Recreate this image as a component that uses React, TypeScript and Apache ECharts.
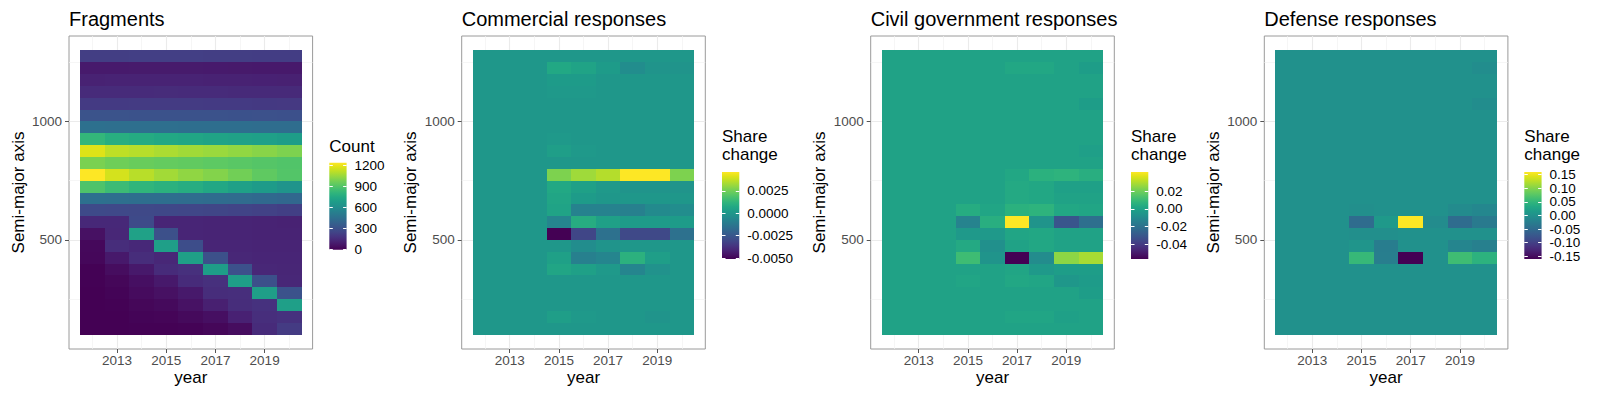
import React, { useEffect, useRef } from "react";
import * as echarts from "echarts";

// ---------- data ----------
const YEARS = [2012, 2013, 2014, 2015, 2016, 2017, 2018, 2019, 2020];
// semi-major axis bin centres, top row first
const SMA_BINS = [
  1275, 1225, 1175, 1125, 1075, 1025, 975, 925, 875, 825, 775, 725,
  675, 625, 575, 525, 475, 425, 375, 325, 275, 225, 175, 125,
];
const X_MAJOR = [2013, 2015, 2017, 2019];
const X_MINOR = [2012, 2014, 2016, 2018, 2020];
const Y_MAJOR = [500, 1000];
const Y_MINOR = [250, 750, 1250];

const FRAGMENTS = [
  [225, 226, 228, 229, 228, 226, 224, 222, 220],
  [88, 89, 90, 91, 90, 88, 86, 85, 84],
  [118, 119, 120, 121, 120, 118, 116, 115, 114],
  [150, 151, 153, 154, 153, 151, 149, 148, 147],
  [210, 211, 213, 214, 213, 211, 209, 207, 205],
  [315, 314, 313, 312, 311, 309, 307, 305, 303],
  [455, 453, 451, 449, 447, 445, 443, 441, 438],
  [820, 775, 760, 748, 735, 722, 712, 702, 690],
  [1180, 1120, 1105, 1085, 1068, 1055, 1038, 1020, 1000],
  [995, 968, 955, 945, 938, 930, 920, 910, 900],
  [1243, 1160, 1110, 1070, 1035, 1012, 975, 935, 905],
  [895, 845, 812, 790, 770, 740, 705, 680, 640],
  [458, 452, 447, 443, 438, 433, 428, 420, 412],
  [275, 272, 270, 266, 262, 256, 250, 240, 230],
  [140, 140, 275, 130, 128, 126, 124, 120, 118],
  [55, 135, 710, 300, 128, 126, 124, 122, 120],
  [25, 160, 140, 700, 290, 130, 128, 126, 124],
  [22, 85, 160, 135, 705, 300, 135, 130, 128],
  [5, 40, 85, 150, 170, 690, 305, 135, 132],
  [3, 20, 50, 85, 150, 170, 700, 300, 135],
  [0, 10, 35, 55, 85, 160, 165, 695, 310],
  [0, 5, 20, 30, 60, 110, 160, 175, 700],
  [0, 0, 10, 15, 30, 50, 115, 165, 175],
  [0, 0, 2, 4, 6, 20, 40, 150, 215],
];

const COMMERCIAL = [
  [0, 0, 0, 0, 0, 0, 0, 0, 0],
  [0, 0, 0, 0.0007, 0.0005, 0.0002, -0.0004, -0.0001, -0.0001],
  [0, 0, 0, 0.0002, 0.0002, 0, 0, 0, 0],
  [0, 0, 0, 0.0001, 0.0001, 0, 0, 0, 0],
  [0, 0, 0, 0, 0, 0, 0, 0, 0],
  [0, 0, 0, 0, 0, 0, 0, 0, 0],
  [0, 0, 0, 0, 0, 0, 0, 0, 0],
  [0, 0, 0, 0.0001, 0, 0, 0, 0, 0],
  [0, 0, 0, 0.0003, 0.0001, 0, 0, 0, 0],
  [0, 0, 0, 0, 0, 0, 0, 0, 0],
  [0, 0, 0, 0.0027, 0.0032, 0.0035, 0.0046, 0.0046, 0.0027],
  [0, 0, 0, 0.0007, 0.0004, 0.0001, -0.0001, -0.0001, -0.0001],
  [0, 0, 0, 0.0006, 0.0002, 0, 0, 0, 0],
  [0, 0, 0, 0.0005, -0.0008, -0.0008, -0.0009, -0.0005, -0.0004],
  [0, 0, 0, -0.0007, 0.0009, 0.0004, 0.0002, 0.0002, 0.0002],
  [0, 0, 0, -0.0051, -0.0031, -0.0015, -0.003, -0.003, -0.0015],
  [0, 0, 0, 0, -0.0004, -0.0001, 0, 0, 0],
  [0, 0, 0, 0.0004, -0.0009, -0.0007, 0.0011, 0.0003, 0],
  [0, 0, 0, 0.0006, 0.0004, 0.0001, -0.0007, -0.0002, 0],
  [0, 0, 0, 0, 0, 0, 0, 0, 0],
  [0, 0, 0, 0, 0, 0, 0, 0, 0],
  [0, 0, 0, 0, 0, 0, 0, 0, 0],
  [0, 0, 0, 0.0003, 0.0001, 0, 0, -0.0001, 0],
  [0, 0, 0, 0, 0, 0, 0, 0, 0],
];

const CIVIL = [
  [0, 0, 0, 0, 0, 0, 0, 0, 0],
  [0, 0, 0, 0, 0, 0.002, 0.002, 0, -0.002],
  [0, 0, 0, 0, 0, 0, 0, 0, 0],
  [0, 0, 0, 0, 0, 0, 0, 0, 0],
  [0, 0, 0, 0, 0, 0, 0, 0, -0.002],
  [0, 0, 0, 0, 0, 0, 0, 0, 0],
  [0, 0, 0, 0, 0, 0, 0, 0, 0],
  [0, 0, 0, 0, 0, 0, 0, 0, 0],
  [0, 0, 0, 0, 0, 0, 0, 0, -0.0015],
  [0, 0, 0, 0, 0, 0, 0, 0, 0],
  [0, 0, 0, 0, 0, 0.002, 0.006, 0.007, 0.005],
  [0, 0, 0, 0, 0, 0.003, 0.002, -0.001, -0.001],
  [0, 0, 0, 0, 0, 0.003, 0.002, 0, 0],
  [0, 0, 0, 0.004, 0.001, 0.006, 0.007, 0.002, 0.001],
  [0, 0, 0, -0.013, 0.005, 0.042, -0.006, -0.031, -0.021],
  [0, 0, 0, -0.004, -0.004, 0.001, 0.002, 0, 0],
  [0, 0, 0, 0.003, -0.008, 0, 0.002, 0, 0],
  [0, 0, 0, 0.011, -0.006, -0.057, -0.0095, 0.025, 0.029],
  [0, 0, 0, 0, 0, 0.001, -0.004, -0.002, -0.002],
  [0, 0, 0, 0.001, 0, 0.002, 0.001, -0.005, -0.003],
  [0, 0, 0, 0, 0, 0, 0, 0, -0.002],
  [0, 0, 0, 0, 0, 0, 0, 0, 0],
  [0, 0, 0, 0, 0, 0.001, 0.001, -0.001, 0],
  [0, 0, 0, 0, 0, 0, 0, 0, 0],
];

const DEFENSE = [
  [0, 0, 0, 0, 0, 0, 0, 0, 0],
  [0, 0, 0, 0, 0, 0, 0, 0, -0.005],
  [0, 0, 0, 0, 0, 0, 0, 0, 0],
  [0, 0, 0, 0, 0, 0, 0, 0, 0],
  [0, 0, 0, 0, 0, 0, 0, 0, -0.005],
  [0, 0, 0, 0, 0, 0, 0, 0, 0],
  [0, 0, 0, 0, 0, 0, 0, 0, 0],
  [0, 0, 0, 0, 0, 0, 0, 0, 0],
  [0, 0, 0, 0, 0, 0, 0, 0, 0],
  [0, 0, 0, 0, 0, 0, 0, 0, 0],
  [0, 0, 0, 0, 0, 0, 0, 0, 0],
  [0, 0, 0, 0, 0, 0, 0, 0, 0],
  [0, 0, 0, 0, 0, 0, 0, 0, 0],
  [0, 0, 0, -0.003, 0, 0, 0, -0.008, -0.012],
  [0, 0, 0, -0.048, 0.011, 0.16, -0.006, -0.048, -0.03],
  [0, 0, 0, -0.003, -0.003, 0, 0, 0, 0],
  [0, 0, 0, 0.006, -0.026, 0, 0, -0.015, -0.022],
  [0, 0, 0, 0.054, -0.024, -0.16, 0, 0.06, 0.045],
  [0, 0, 0, 0, 0, 0, 0, 0, 0],
  [0, 0, 0, 0, 0, 0, 0, 0, 0],
  [0, 0, 0, 0, 0, 0, 0, 0, 0],
  [0, 0, 0, 0, 0, 0, 0, 0, 0],
  [0, 0, 0, 0, 0, 0, 0, 0, 0],
  [0, 0, 0, 0, 0, 0, 0, 0, 0],
];

const FRAG_BREAKS = [0, 300, 600, 900, 1200];
const COMM_BREAKS = [-0.005, -0.0025, 0, 0.0025];
const CIVIL_BREAKS = [-0.04, -0.02, 0, 0.02];
const DEF_BREAKS = [-0.15, -0.1, -0.05, 0, 0.05, 0.1, 0.15];

const TITLES = ["Fragments", "Commercial responses", "Civil government responses", "Defense responses"];
const LEGEND_TITLES = [["Count"], ["Share", "change"], ["Share", "change"], ["Share", "change"]];

// ---------- styling / layout ----------
const VIRIDIS = [
  "#440154", "#471365", "#482475", "#463480", "#414487", "#3b528b", "#355f8d",
  "#2f6c8e", "#2a788e", "#25848e", "#21918c", "#1e9c89", "#22a884", "#2fb47c",
  "#44bf70", "#5ec962", "#7ad151", "#9bd93c", "#bddf26", "#dfe318", "#fde725",
];
const FONT = "'Liberation Sans', Arial, Helvetica, sans-serif";
const BOX_LEFT = [69, 461.7, 870.7, 1264.3];
const BOX_TOP = 36;
const BOX_W = 243.6;
const BOX_H = 313;
const BAR_LEFT = [329.3, 722, 1131, 1524.3];
const BAR_W = 17.3;
const BAR_H = 87;

function buildOption() {
  const panels = [
    { values: FRAGMENTS, breaks: FRAG_BREAKS, dec: 0 },
    { values: COMMERCIAL, breaks: COMM_BREAKS, dec: 4 },
    { values: CIVIL, breaks: CIVIL_BREAKS, dec: 2 },
    { values: DEFENSE, breaks: DEF_BREAKS, dec: 2 },
  ];
  const yearStep = YEARS[1] - YEARS[0];
  const binStep = SMA_BINS[0] - SMA_BINS[1];
  const xLo = YEARS[0] - yearStep / 2;
  const xHi = YEARS[YEARS.length - 1] + yearStep / 2;
  const yLo = Math.min(...SMA_BINS) - binStep / 2;
  const yHi = Math.max(...SMA_BINS) + binStep / 2;
  const xMin = xLo - 0.05 * (xHi - xLo);
  const xMax = xHi + 0.05 * (xHi - xLo);
  const yMin = yLo - 0.05 * (yHi - yLo);
  const yMax = yHi + 0.05 * (yHi - yLo);

  const grid: any[] = [];
  const xAxis: any[] = [];
  const yAxis: any[] = [];
  const series: any[] = [];
  const visualMap: any[] = [];
  const graphics: any[] = [];

  const legendSeries: any[] = [];
  const legendGridsA: any[] = [];
  const legendGridsB: any[] = [];
  const legendXA: any[] = [];
  const legendXB: any[] = [];
  const legendYA: any[] = [];
  const legendYB: any[] = [];

  const gradStops = VIRIDIS.map((c, k) => ({ offset: k / (VIRIDIS.length - 1), color: c }));
  const n = panels.length;

  panels.forEach((p, i) => {
    const data: number[][] = [];
    p.values.forEach((row, r) => row.forEach((v, c) => data.push([YEARS[c], SMA_BINS[r], v])));
    const flat = p.values.flat();
    const vmin = Math.min(...flat);
    const vmax = Math.max(...flat);

    grid.push({
      left: BOX_LEFT[i], top: BOX_TOP, width: BOX_W, height: BOX_H,
      show: true, borderColor: "#9a9a9a", borderWidth: 1, backgroundColor: "transparent",
      containLabel: false, outerBoundsMode: "none",
    });
    xAxis.push({
      type: "value", gridIndex: i, min: xMin, max: xMax, position: "bottom",
      axisLine: { show: false, onZero: false },
      axisTick: { show: true, length: 4, lineStyle: { color: "#555", width: 1 }, customValues: X_MAJOR },
      axisLabel: { customValues: X_MAJOR, color: "#4d4d4d", fontSize: 13.5, fontFamily: FONT, margin: 4, formatter: (v: number) => String(Math.round(v)) },
      splitLine: { show: true, lineStyle: { color: "#ebebeb", width: 1.1 } },
    });
    xAxis.push({
      type: "value", gridIndex: i, min: xMin, max: xMax, position: "top",
      axisLine: { show: false, onZero: false },
      axisTick: { show: false, customValues: X_MINOR },
      axisLabel: { show: false, customValues: X_MINOR },
      splitLine: { show: true, lineStyle: { color: "#f2f2f2", width: 0.7 } },
    });
    yAxis.push({
      type: "value", gridIndex: i, min: yMin, max: yMax, position: "left",
      axisLine: { show: false, onZero: false },
      axisTick: { show: true, length: 4, lineStyle: { color: "#555", width: 1 }, customValues: Y_MAJOR },
      axisLabel: { customValues: Y_MAJOR, color: "#4d4d4d", fontSize: 13.5, fontFamily: FONT, margin: 7, formatter: (v: number) => String(Math.round(v)) },
      splitLine: { show: true, lineStyle: { color: "#ebebeb", width: 1.1 } },
    });
    yAxis.push({
      type: "value", gridIndex: i, min: yMin, max: yMax, position: "right",
      axisLine: { show: false, onZero: false },
      axisTick: { show: false, customValues: Y_MINOR },
      axisLabel: { show: false, customValues: Y_MINOR },
      splitLine: { show: true, lineStyle: { color: "#f2f2f2", width: 0.7 } },
    });

    series.push({
      type: "custom",
      xAxisIndex: 2 * i,
      yAxisIndex: 2 * i,
      silent: true,
      encode: { x: 0, y: 1 },
      data,
      renderItem: (params: any, api: any) => {
        const x = api.value(0);
        const y = api.value(1);
        const a = api.coord([x - yearStep / 2, y + binStep / 2]);
        const b = api.coord([x + yearStep / 2, y - binStep / 2]);
        const x0 = Math.round(a[0]);
        const y0 = Math.round(a[1]);
        const x1 = Math.round(b[0]);
        const y1 = Math.round(b[1]);
        const color = api.visual("color");
        return {
          type: "rect",
          shape: { x: x0, y: y0, width: x1 - x0, height: y1 - y0 },
          style: { fill: color },
        };
      },
    });

    visualMap.push({
      type: "continuous", show: false, seriesIndex: i, dimension: 2,
      min: vmin, max: vmax, inRange: { color: VIRIDIS },
    });

    // legend colour bar: two overlapping grids so that tight labels are split over two axes
    const lt = LEGEND_TITLES[i];
    const barTop = lt.length === 1 ? 162.7 : 172;
    const legendRect = {
      left: BAR_LEFT[i], top: barTop, width: BAR_W, height: BAR_H, show: false,
      containLabel: false, outerBoundsMode: "none",
    };
    legendGridsA.push({ ...legendRect });
    legendGridsB.push({ ...legendRect });
    legendXA.push({ type: "value", gridIndex: n + i, min: 0, max: 1, show: false });
    legendXB.push({ type: "value", gridIndex: 2 * n + i, min: 0, max: 1, show: false });
    const fmt = (v: number) => v.toFixed(p.dec);
    const evenBreaks = p.breaks.filter((_, k) => k % 2 === 0);
    const oddBreaks = p.breaks.filter((_, k) => k % 2 === 1);
    const labelStyle = {
      color: "#000", fontSize: 13.5, fontFamily: FONT, margin: 8, formatter: fmt,
      showMinLabel: true, showMaxLabel: true, hideOverlap: false,
    };
    legendYA.push({
      type: "value", gridIndex: n + i, min: vmin, max: vmax, position: "right", z: 10,
      axisLine: { show: false, onZero: false },
      axisTick: { show: true, inside: true, length: 3.5, lineStyle: { color: "#ffffff", width: 1 }, customValues: p.breaks },
      axisLabel: { ...labelStyle, customValues: evenBreaks },
      splitLine: { show: false },
    });
    legendYA.push({
      type: "value", gridIndex: n + i, min: vmin, max: vmax, position: "left", z: 10,
      axisLine: { show: false, onZero: false },
      axisTick: { show: true, inside: true, length: 3.5, lineStyle: { color: "#ffffff", width: 1 }, customValues: p.breaks },
      axisLabel: { show: false, customValues: p.breaks },
      splitLine: { show: false },
    });
    legendYB.push({
      type: "value", gridIndex: 2 * n + i, min: vmin, max: vmax, position: "right", z: 10,
      axisLine: { show: false, onZero: false },
      axisTick: { show: false, customValues: oddBreaks.length ? oddBreaks : [vmax + 1] },
      axisLabel: { ...labelStyle, show: oddBreaks.length > 0, customValues: oddBreaks.length ? oddBreaks : [vmax + 1] },
      splitLine: { show: false },
    });
    legendSeries.push({
      type: "custom",
      xAxisIndex: 2 * n + i,
      yAxisIndex: 2 * n + 2 * i,
      silent: true,
      encode: { x: 0, y: [1, 2] },
      data: [[0, vmin, vmax]],
      renderItem: (params: any, api: any) => {
        const a = api.coord([0, api.value(2)]);
        const b = api.coord([1, api.value(1)]);
        return {
          type: "rect",
          shape: { x: a[0], y: a[1], width: b[0] - a[0], height: b[1] - a[1] },
          style: { fill: new echarts.graphic.LinearGradient(0, 1, 0, 0, gradStops) },
        };
      },
    });

    // texts
    graphics.push({
      type: "text", x: BOX_LEFT[i], y: 19,
      style: { text: TITLES[i], fill: "#000", fontSize: 20, fontFamily: FONT, align: "left", verticalAlign: "middle" },
    });
    graphics.push({
      type: "text", x: BOX_LEFT[i] + BOX_W / 2, y: 377.5,
      style: { text: "year", fill: "#000", fontSize: 17, fontFamily: FONT, align: "center", verticalAlign: "middle" },
    });
    graphics.push({
      type: "text", x: BOX_LEFT[i] - 51, y: BOX_TOP + BOX_H / 2, rotation: Math.PI / 2,
      style: { text: "Semi-major axis", fill: "#000", fontSize: 17, fontFamily: FONT, align: "center", verticalAlign: "middle" },
    });
    const ltY = lt.length === 1 ? [146.3] : [136.8, 154];
    lt.forEach((t, k) => {
      graphics.push({
        type: "text", x: BAR_LEFT[i], y: ltY[k],
        style: { text: t, fill: "#000", fontSize: 17, fontFamily: FONT, align: "left", verticalAlign: "middle" },
      });
    });
  });

  return {
    animation: false,
    backgroundColor: "#ffffff",
    textStyle: { fontFamily: FONT },
    grid: [...grid, ...legendGridsA, ...legendGridsB],
    xAxis: [...xAxis, ...legendXA, ...legendXB],
    yAxis: [...yAxis, ...legendYA, ...legendYB],
    visualMap,
    series: [...series, ...legendSeries],
    graphic: { elements: graphics },
  };
}

export default function App() {
  const ref = useRef<HTMLDivElement>(null);
  useEffect(() => {
    if (!ref.current) return;
    const chart = echarts.init(ref.current, null, { renderer: "svg", width: 1600, height: 400 });
    chart.setOption(buildOption() as any);
    return () => chart.dispose();
  }, []);
  return (
    <div
      ref={ref}
      style={{ position: "absolute", left: 0, top: 0, width: 1600, height: 400, background: "#fff" }}
    />
  );
}
